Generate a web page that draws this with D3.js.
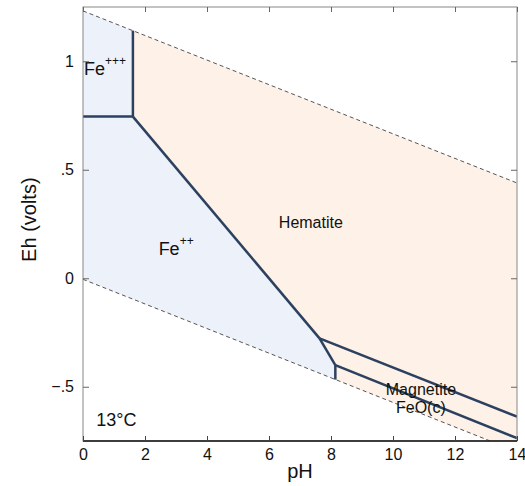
<!DOCTYPE html>
<html>
<head>
<meta charset="utf-8">
<script src="https://cdn.jsdelivr.net/npm/d3@7"></script>
<style>
  body { margin: 0; background: #fff; }
  text { font-family: Arial, "Liberation Sans", sans-serif; fill: #111; }
</style>
</head>
<body>
<svg id="chart" width="525" height="486"></svg>
<script>
// axis ticks
const phTicks = [0, 2, 4, 6, 8, 10, 12, 14];
const ehTicks = [-0.5, 0, 0.5, 1];
const ehTickLabels = ['\u2212.5', '0', '.5', '1'];

// water stability limits (pH, Eh)
const waterUpper = [[0, 1.232], [14, 0.439]];
const waterLower = [[0, -0.005], [14, -0.799]];

// phase boundaries (pH, Eh)
const fe3Fe2 = [[0, 0.745], [1.61, 0.745]];
const fe3Hem = [[1.61, 0.745], [1.61, 1.141]];
const fe2Hem = [[1.61, 0.745], [7.63, -0.277]];
const fe2Mag = [[7.63, -0.277], [8.14, -0.40]];
const fe2FeO = [[8.14, -0.40], [8.14, -0.467]];
const hemMag = [[7.63, -0.277], [14, -0.638]];
const magFeO = [[8.14, -0.40], [14, -0.737]];

// field polygons
const aqueousField = [[0, 1.232], [1.61, 1.141], [1.61, 0.745], [7.63, -0.277],
  [8.14, -0.40], [8.14, -0.467], [0, -0.005]];
const solidField = [[1.61, 1.141], [14, 0.439], [14, -0.799], [8.14, -0.467],
  [8.14, -0.40], [7.63, -0.277], [1.61, 0.745]];

const width = 525, height = 486;
const pad = { left: 83, right: 8, top: 7, bottom: 45 };

const x = d3.scaleLinear().domain([0, 14]).range([pad.left, width - pad.right]);
const y = d3.scaleLinear().domain([-0.75, 1.25]).range([height - pad.bottom, pad.top]);

const svg = d3.select('#chart');

svg.append('defs').append('clipPath')
  .attr('id', 'plot-clip')
  .append('rect')
  .attr('x', x(0))
  .attr('y', y(1.25))
  .attr('width', x(14) - x(0))
  .attr('height', y(-0.75) - y(1.25));

const line = d3.line().x(d => x(d[0])).y(d => y(d[1]));
const plot = svg.append('g').attr('clip-path', 'url(#plot-clip)');

// fields
plot.append('path')
  .attr('d', line(aqueousField) + 'Z')
  .attr('fill', '#edf1f9');
plot.append('path')
  .attr('d', line(solidField) + 'Z')
  .attr('fill', '#fdf1e8');

// water lines
[waterUpper, waterLower].forEach(seg => {
  plot.append('path')
    .attr('d', line(seg))
    .attr('fill', 'none')
    .attr('stroke', '#555')
    .attr('stroke-width', 1)
    .attr('stroke-dasharray', '4,3');
});

// labels
function label(txt, sup, px, eh, size, anchor) {
  const t = svg.append('text')
    .attr('x', x(px))
    .attr('y', y(eh))
    .attr('font-size', size)
    .attr('text-anchor', anchor || 'start')
    .text(txt);
  if (sup) {
    t.append('tspan')
      .attr('dy', -10)
      .attr('font-size', 12)
      .text(sup);
  }
}
label('Fe', '+++', 0.03, 0.935, 18);
label('Fe', '++', 2.44, 0.107, 18);
label('Hematite', null, 7.35, 0.23, 16, 'middle');
label('13\u00B0C', null, 0.43, -0.68, 18);

// boundaries
[fe3Fe2, fe3Hem, fe2Hem, fe2Mag, fe2FeO, hemMag, magFeO].forEach(seg => {
  plot.append('path')
    .attr('d', line(seg))
    .attr('fill', 'none')
    .attr('stroke', '#2c405f')
    .attr('stroke-width', 2.5);
});

label('Magnetite', null, 10.9, -0.538, 16, 'middle');
label('FeO(c)', null, 10.9, -0.622, 16, 'middle');

// frame
svg.append('rect')
  .attr('x', x(0))
  .attr('y', y(1.25))
  .attr('width', x(14) - x(0))
  .attr('height', y(-0.75) - y(1.25))
  .attr('fill', 'none')
  .attr('stroke', '#888')
  .attr('stroke-width', 1);

svg.append('line')
  .attr('x1', x(0)).attr('x2', x(14))
  .attr('y1', y(-0.75)).attr('y2', y(-0.75))
  .attr('stroke', '#111')
  .attr('stroke-width', 1.5);

// x axis
const xAxis = svg.append('g')
  .attr('transform', `translate(0,${y(-0.75)})`)
  .call(d3.axisBottom(x).tickValues(phTicks).tickSize(-5).tickPadding(8).tickFormat(d3.format('d')));
xAxis.select('.domain').remove();
xAxis.selectAll('line').attr('stroke', '#444');
xAxis.selectAll('text').attr('font-size', 16).attr('font-family', 'Arial, "Liberation Sans", sans-serif').attr('fill', '#111');

svg.append('g')
  .attr('transform', `translate(0,${y(1.25)})`)
  .call(d3.axisTop(x).tickValues(phTicks).tickSize(-5).tickFormat(''))
  .call(g => g.select('.domain').remove())
  .selectAll('line').attr('stroke', '#666');

// y axis
const yAxis = svg.append('g')
  .attr('transform', `translate(${x(0)},0)`)
  .call(d3.axisLeft(y).tickValues(ehTicks).tickSize(-6).tickPadding(9)
    .tickFormat((d, i) => ehTickLabels[i]));
yAxis.select('.domain').remove();
yAxis.selectAll('line').attr('stroke', '#666');
yAxis.selectAll('text').attr('font-size', 16).attr('font-family', 'Arial, "Liberation Sans", sans-serif').attr('fill', '#111');

svg.append('g')
  .attr('transform', `translate(${x(14)},0)`)
  .call(d3.axisRight(y).tickValues(ehTicks).tickSize(-6).tickFormat(''))
  .call(g => g.select('.domain').remove())
  .selectAll('line').attr('stroke', '#666');

// axis titles
svg.append('text')
  .attr('x', (x(0) + x(14)) / 2)
  .attr('y', 478)
  .attr('text-anchor', 'middle')
  .attr('font-size', 20)
  .text('pH');

svg.append('text')
  .attr('transform', `translate(36,${y(0.27)}) rotate(-90)`)
  .attr('text-anchor', 'middle')
  .attr('font-size', 20)
  .text('Eh (volts)');
</script>
</body>
</html>
